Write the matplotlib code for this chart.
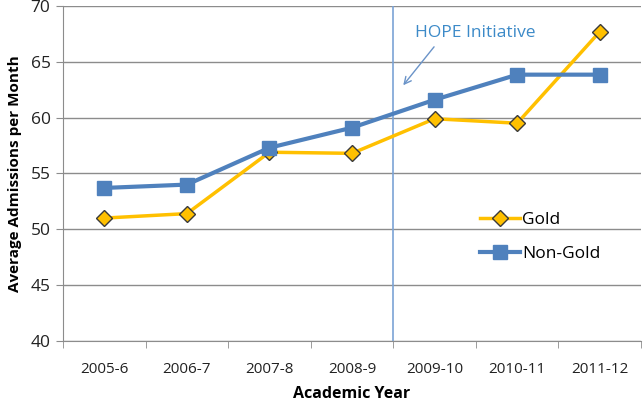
import numpy as np
import matplotlib.pyplot as plt

years = ['2005-6', '2006-7', '2007-8', '2008-9', '2009-10', '2010-11', '2011-12']
gold = [51.0, 51.4, 56.9, 56.8, 59.9, 59.5, 67.7]
non_gold = [53.7, 54.0, 57.3, 59.1, 61.6, 63.85, 63.85]

plt.rcParams['font.family'] = ['Open Sans', 'DejaVu Sans']

fig = plt.figure(figsize=(6.43, 4.01), dpi=100)
ax = fig.add_axes([0.098, 0.150, 0.899, 0.835])

x = np.arange(len(years))
grid_c = '#8c8c8c'

ax.plot(x, gold, color='#FFC000', lw=2.5, marker='D', ms=8,
        mfc='#FFC000', mec='#3a3a3a', mew=1, label='Gold', zorder=3)
ax.plot(x, non_gold, color='#4F81BD', lw=3, marker='s', ms=10,
        mfc='#4F81BD', mec='#4F81BD', label='Non-Gold', zorder=4)

# intervention line between 2008-9 and 2009-10
ax.axvline(3.5, color='#7BA3D6', lw=1.2, zorder=2)
ax.annotate('HOPE Initiative', xy=(3.62, 62.9), xytext=(3.76, 67.6),
            color='#3C8AC8', fontsize=12.5, ha='left', va='center',
            arrowprops=dict(arrowstyle='->', color='#6A93C8', lw=1,
                            shrinkA=3, shrinkB=0, relpos=(0.2, 0.0)))

ax.set_xlim(-0.5, 6.5)
ax.set_ylim(40, 70)
ax.set_yticks(range(40, 71, 5))
ax.set_xticks(x)
ax.set_xticklabels(years)
ax.set_xticks(np.arange(-0.5, 7, 1), minor=True)
ax.tick_params(axis='x', which='major', length=0, pad=15, labelsize=11, colors='#222222')
ax.tick_params(axis='x', which='minor', length=5, color=grid_c)
ax.tick_params(axis='y', length=5, color=grid_c, labelsize=12.5, labelcolor='#222222', pad=4)

ax.grid(axis='y', color=grid_c, lw=1)
ax.set_axisbelow(True)
for s in ['top', 'right']:
    ax.spines[s].set_visible(False)
ax.spines['left'].set_color(grid_c)
ax.spines['bottom'].set_color(grid_c)

ax.set_xlabel('Academic Year', fontweight='bold', fontsize=11.5, labelpad=7)
ax.set_ylabel('Average Admissions per Month', fontweight='bold', fontsize=11, labelpad=6)

ax.legend(loc='center left', bbox_to_anchor=(0.695, 0.31), frameon=False,
          fontsize=12.5, handlelength=2.3, handletextpad=0.1, labelspacing=1.0)

fig.savefig('out.png', dpi=100)
